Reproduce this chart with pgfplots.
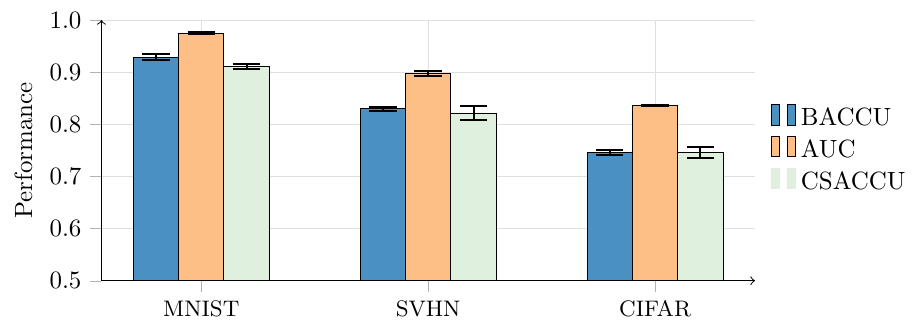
\documentclass[border=0pt]{standalone}
\usepackage{pgfplots}
\pgfplotsset{compat=1.18}
\definecolor{cbaccu}{RGB}{74,144,194}
\definecolor{cauc}{RGB}{253,191,134}
\definecolor{ccsaccu}{RGB}{223,240,222}
\begin{document}
\begin{tikzpicture}
\begin{axis}[
  scale only axis,
  width=262pt, height=104.5pt,
  axis lines=left,
  axis line style={->},
  tick align=outside,
  major tick length=4.5pt,
  tick style={gray!60},
  ybar, bar width=0.2,
  xmin=-0.44, xmax=2.44,
  ymin=0.5, ymax=1.0,
  xtick={0,1,2},
  xticklabels={MNIST,SVHN,CIFAR},
  ytick={0.5,0.6,0.7,0.8,0.9,1.0},
  yticklabel style={/pgf/number format/.cd,fixed,fixed zerofill,precision=1},
  xticklabel style={font=\small},
  grid=major,
  major grid style={gray!25},
  ylabel={Performance},
  legend style={draw=none, at={(1.012,0.5)}, anchor=west, font=\normalsize},
  legend cell align=left,
  error bars/error mark options={rotate=90, mark size=5.5pt, line width=0.8pt},
  error bars/error bar style={line width=0.8pt},
]
\addplot[fill=cbaccu, draw=black, bar shift=-0.2,
  legend image code/.code={\draw[fill=cbaccu,draw=black] (0pt,-2.6pt) rectangle (3.3pt,5.6pt); \draw[fill=cbaccu,draw=black] (6.4pt,-2.6pt) rectangle (9.7pt,5.6pt);},
  error bars/.cd, y dir=both, y explicit]
  coordinates {(0,0.929) +- (0,0.006) (1,0.830) +- (0,0.004) (2,0.746) +- (0,0.004)};
\addlegendentry{BACCU}
\addplot[fill=cauc, draw=black, bar shift=0,
  legend image code/.code={\draw[fill=cauc,draw=black] (0pt,-2.6pt) rectangle (3.3pt,5.6pt); \draw[fill=cauc,draw=black] (6.4pt,-2.6pt) rectangle (9.7pt,5.6pt);},
  error bars/.cd, y dir=both, y explicit]
  coordinates {(0,0.975) +- (0,0.002) (1,0.898) +- (0,0.005) (2,0.836) +- (0,0.0012)};
\addlegendentry{AUC}
\addplot[fill=ccsaccu, draw=black, bar shift=0.2,
  legend image code/.code={\fill[ccsaccu] (0pt,-2.6pt) rectangle (3.3pt,5.6pt); \fill[ccsaccu] (6.4pt,-2.6pt) rectangle (9.7pt,5.6pt);},
  error bars/.cd, y dir=both, y explicit]
  coordinates {(0,0.911) +- (0,0.0045) (1,0.821) +- (0,0.0135) (2,0.746) +- (0,0.011)};
\addlegendentry{CSACCU}
\end{axis}
\path (current axis.outer west) ++(-2.5pt,0pt);
\path (current axis.outer north) ++(0pt,1.5pt);
\end{tikzpicture}
\end{document}
